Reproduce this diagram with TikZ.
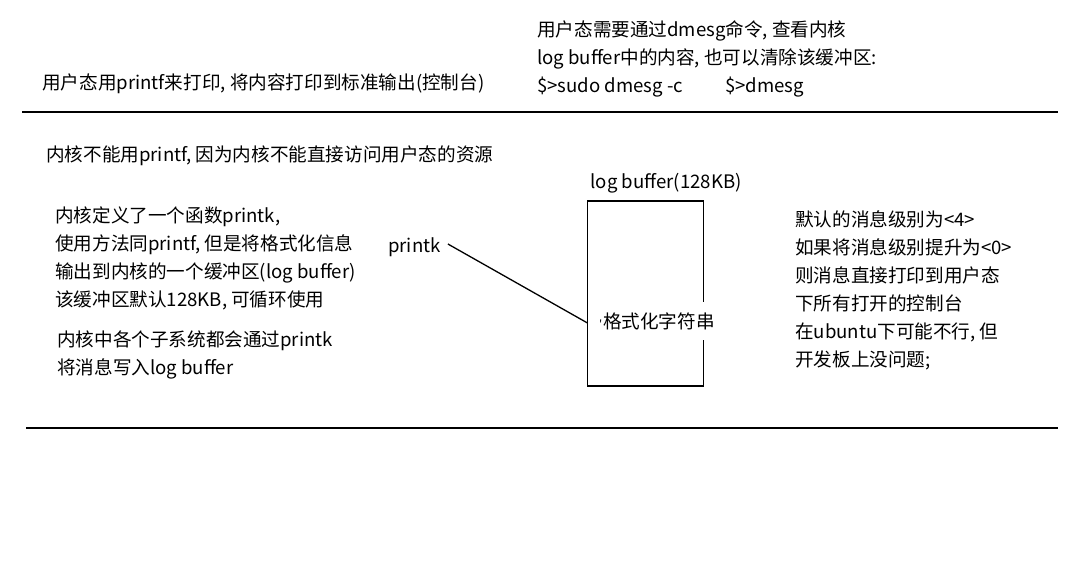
\documentclass[tikz,border=0pt]{standalone}
\usepackage{fontspec}
\setmainfont{Noto Sans CJK SC}
\newfontfamily\tickfont{Noto Sans}
\newcommand{\myfs}{\fontsize{18.6}{28}\selectfont}
\begin{document}
\begin{tikzpicture}[x=1pt,y=-1pt,
  txt/.style={font=\myfs, align=left, inner sep=0pt, anchor=west},
  rule/.style={line width=2pt},
  boxst/.style={draw, line width=1.8pt, inner sep=0pt},
  conn/.style={line width=1.3pt}]
\useasboundingbox (0,0) rectangle (1092,570);
% texts
\node[txt] (user) at (42,84) {用户态用printf来打印, 将内容打印到标准输出(控制台)};
\node[txt] (dmesg) at (537,58.5) {用户态需要通过dmesg命令, 查看内核\\log buffer中的内容, 也可以清除该缓冲区:\\\$>sudo dmesg -c\hspace{42pt}\$>dmesg};
\node[txt] (kern) at (46,156) {内核不能用printf, 因为内核不能直接访问用户态的资源};
\node[txt] (def) at (55,258.5) {内核定义了一个函数printk,\\使用方法同printf, 但是将格式化信息\\输出到内核的一个缓冲区(log buffer)\\该缓冲区默认128KB, 可循环使用};
\node[txt] (sub) at (57,355) {内核中各个子系统都会通过printk\\将消息写入log buffer};
\node[txt] (lvl) at (795,290.5) {默认的消息级别为<4>\\如果将消息级别提升为<0>\\则消息直接打印到用户态\\下所有打开的控制台\\在ubuntu下可能不行, 但\\开发板上没问题;};
% rules
\coordinate (r1a) at (22,112); \coordinate (r1b) at (1058,112);
\coordinate (r2a) at (26,428); \coordinate (r2b) at (1058,428);
\draw[rule] (r1a) -- (r1b);
\draw[rule] (r2a) -- (r2b);
% buffer box
\node[boxst, minimum width=116pt, minimum height=185pt] (buf) at (645.5,293.5) {};
\node[txt, anchor=center] (buflbl) at (666,183) {log buffer(128KB)};
\node[font=\myfs, fill=white, inner xsep=2pt, inner ysep=10pt] (fmt) at (657,321) {{\tickfont\fontsize{12}{12}\selectfont '}\kern1pt 格式化字符串};
% printk
\node[txt] (printk) at (388,247) {printk};
\coordinate (bufin) at (587.5,323);
\draw[conn] (printk.east) ++(7,-3) -- (bufin);
\end{tikzpicture}
\end{document}
